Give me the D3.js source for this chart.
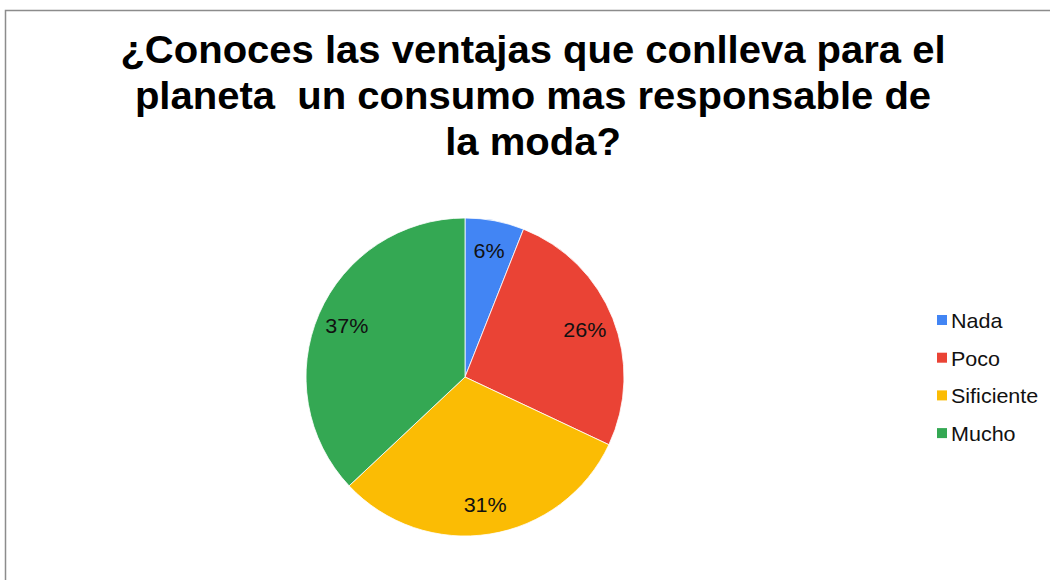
<!DOCTYPE html>
<html>
<head>
<meta charset="utf-8">
<script src="https://cdn.jsdelivr.net/npm/d3@7"></script>
<style>
  html, body { margin: 0; padding: 0; background: #fff; }
  svg { display: block; }
</style>
</head>
<body>
<svg id="chart" width="1050" height="580"></svg>
<script>
// Survey answers and their shares (percent)
const categories = ["Nada", "Poco", "Sificiente", "Mucho"];
const values = [6, 26, 31, 37];
const colors = ["#4285F4", "#EA4335", "#FBBC04", "#34A853"];
const titleLines = [
  "¿Conoces las ventajas que conlleva para el",
  "planeta  un consumo mas responsable de",
  "la moda?"
];

const svg = d3.select("#chart");
const font = "'Liberation Sans', Arial, sans-serif";
const stretch = 1.05;      // slightly wide lettering for labels
const titleStretch = 1.032;

// Outer chart frame
svg.append("rect")
  .attr("x", 5.5).attr("y", 10.5)
  .attr("width", 1100).attr("height", 700)
  .attr("fill", "#fff")
  .attr("stroke", "#8c8c8c")
  .attr("stroke-width", 1.5);

// Title
svg.selectAll("text.title")
  .data(titleLines)
  .join("text")
  .attr("class", "title")
  .attr("transform", (d, i) => `translate(533,${63 + i * 46}) scale(${titleStretch},1)`)
  .attr("text-anchor", "middle")
  .attr("font-family", font)
  .attr("font-weight", "bold")
  .attr("font-size", 38.8)
  .attr("fill", "#000")
  .style("white-space", "pre")
  .text(d => d);

// Pie
const cx = 465, cy = 377, r = 159;
const data = categories.map((c, i) => ({ name: c, value: values[i], color: colors[i] }));
const pie = d3.pie().value(d => d.value).sort(null);
const arc = d3.arc().innerRadius(0).outerRadius(r);
const labelArc = d3.arc().innerRadius(r * 0.81).outerRadius(r * 0.81);

const g = svg.append("g").attr("transform", `translate(${cx},${cy})`);
const arcs = pie(data);

g.selectAll("path")
  .data(arcs)
  .join("path")
  .attr("d", arc)
  .attr("fill", d => d.data.color)
  .attr("stroke", "#fff")
  .attr("stroke-width", 0.8);

g.selectAll("text")
  .data(arcs)
  .join("text")
  .attr("transform", d => `translate(${labelArc.centroid(d)}) scale(${stretch},1)`)
  .attr("text-anchor", "middle")
  .attr("dy", "0.36em")
  .attr("font-family", font)
  .attr("font-size", 20.5)
  .attr("fill", "#111")
  .text(d => d.data.value + "%");

// Legend
const legend = svg.append("g").attr("transform", "translate(937,315)");
const rows = legend.selectAll("g")
  .data(data)
  .join("g")
  .attr("transform", (d, i) => `translate(0,${i * 37.7})`);

rows.append("rect")
  .attr("width", 10).attr("height", 10)
  .attr("fill", d => d.color);

rows.append("text")
  .attr("transform", `translate(14,13) scale(${stretch},1)`)
  .attr("font-family", font)
  .attr("font-size", 20.5)
  .attr("fill", "#111")
  .text(d => d.name);
</script>
</body>
</html>
